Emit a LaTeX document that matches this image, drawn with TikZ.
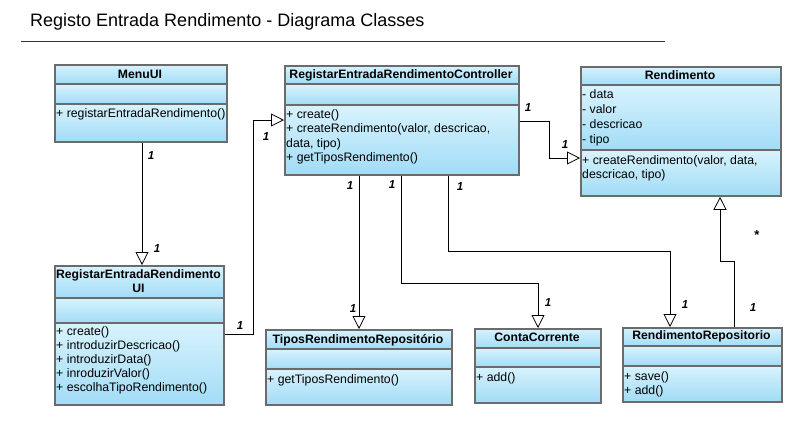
\documentclass[tikz,border=0pt]{standalone}
\usepackage{fontspec}
\setmainfont{Liberation Sans}
\usetikzlibrary{arrows.meta}
\definecolor{cTop}{HTML}{D8F3FD}
\definecolor{cBot}{HTML}{A2DCF6}
\definecolor{cBorder}{HTML}{6B6B6B}
\tikzset{
  clsframe/.style={draw=cBorder, line width=1.8pt, anchor=north west, inner sep=0pt},
  sepline/.style={draw=cBorder, line width=1.8pt},
  ttl/.style={anchor=base, inner sep=0pt, font=\fontsize{12.2}{14}\selectfont\bfseries},
  txt/.style={anchor=base west, inner sep=0pt, font=\fontsize{12.3}{14}\selectfont},
  mult/.style={inner sep=0pt, font=\fontsize{11.5}{13}\selectfont\bfseries\itshape},
  gen/.style={-{Triangle[length=13pt, width=13pt, fill=white]}, line width=0.8pt, black},
}
\newcommand{\umlcls}[7]{%
  \shade[top color=cTop,bottom color=cBot] (#2,#3) rectangle (#4,#6);
  \shade[top color=cTop,bottom color=cBot] (#2,#6) rectangle (#4,#7);
  \shade[top color=cTop,bottom color=cBot] (#2,#7) rectangle (#4,#5);
  \draw[sepline] (#2,#6) -- (#4,#6) (#2,#7) -- (#4,#7);
  \node[clsframe, minimum width={(#4-#2)*1pt}, minimum height={(#5-#3)*1pt}] (#1) at (#2,#3) {};
}
\begin{document}
\begin{tikzpicture}[x=1pt,y=-1pt]
\useasboundingbox (0,0) rectangle (802,424);
\fill[white] (0,0) rectangle (802,424);

% title
\node[anchor=base west, inner sep=0pt, font=\fontsize{18}{20}\selectfont] (title) at (30,26) {Registo Entrada Rendimento - Diagrama Classes};
\coordinate (tl) at (21,41);
\coordinate (tr) at (665,41);
\draw[line width=0.8pt, black!80] (tl) -- (tr);

% MenuUI
\umlcls{menu}{54}{64}{226}{141}{84}{104}
\node[ttl] (menut) at (140,78) {MenuUI};
\node[txt] (menum1) at (56,117) {+ registarEntradaRendimento()};

% Controller
\umlcls{ctrl}{284}{65}{518}{174}{84}{105}
\node[ttl] (ctrlt) at (401,78) {RegistarEntradaRendimentoController};
\foreach \t [count=\i from 0] in {{+ create()},{+ createRendimento(valor, descricao,},{data, tipo)},{+ getTiposRendimento()}}
  \node[txt] (ctrlm\i) at (286,118+\i*14.5) {\t};

% Rendimento
\umlcls{rend}{580}{66}{780}{195}{85}{150}
\node[ttl] (rendt) at (680,79) {Rendimento};
\foreach \t [count=\i from 0] in {{- data},{- valor},{- descricao},{- tipo}}
  \node[txt] (renda\i) at (582,98+\i*15) {\t};
\foreach \t [count=\i from 0] in {{+ createRendimento(valor, data,},{descricao, tipo)}}
  \node[txt] (rendm\i) at (582,164+\i*14) {\t};

% RegistarEntradaRendimentoUI
\umlcls{ui}{54}{265}{223}{404}{298}{323}
\node[ttl] (uit1) at (138.5,278) {RegistarEntradaRendimento};
\node[ttl] (uit2) at (138.5,292) {UI};
\foreach \t [count=\i from 0] in {{+ create()},{+ introduzirDescricao()},{+ introduzirData()},{+ inroduzirValor()},{+ escolhaTipoRendimento()}}
  \node[txt] (uim\i) at (56,335+\i*14) {\t};

% TiposRendimentoRepositorio
\umlcls{tipos}{265}{329}{451}{404}{349}{369}
\node[ttl] (tipost) at (358,343) {TiposRendimentoRepositório};
\node[txt] (tiposm) at (267,383) {+ getTiposRendimento()};

% ContaCorrente
\umlcls{conta}{474}{328}{600}{402}{348}{367}
\node[ttl] (contat) at (537,341) {ContaCorrente};
\node[txt] (contam) at (476,381) {+ add()};

% RendimentoRepositorio
\umlcls{rrepo}{622}{327}{781}{401}{346}{366}
\node[ttl] (rrepot) at (701.5,339) {RendimentoRepositorio};
\node[txt] (rrepom1) at (624,380) {+ save()};
\node[txt] (rrepom2) at (624,394) {+ add()};

% connectors
\draw[gen] (142,0 |- menu.south) -- (142,0 |- ui.north);
\node[mult] (l1a) at (151,156) {1};
\node[mult] (l1b) at (157,249) {1};

\draw[gen] (ui.east |- 0,334) -- (253,334) -- (253,120) -- (ctrl.west |- 0,120);
\node[mult] (l2a) at (240,326) {1};
\node[mult] (l2b) at (266,137) {1};

\draw[gen] (ctrl.east |- 0,121) -- (549,121) -- (549,158) -- (rend.west |- 0,158);
\node[mult] (l3a) at (528,108) {1};
\node[mult] (l3b) at (565,145) {1};

\draw[gen] (359,0 |- ctrl.south) -- (359,0 |- tipos.north);
\node[mult] (l4a) at (350,186) {1};
\node[mult] (l4b) at (353,309) {1};

\draw[gen] (401,0 |- ctrl.south) -- (401,283) -- (538,283) -- (538,0 |- conta.north);
\node[mult] (l5a) at (392,185) {1};
\node[mult] (l5b) at (548,303) {1};

\draw[gen] (448,0 |- ctrl.south) -- (448,251) -- (670,251) -- (670,0 |- rrepo.north);
\node[mult] (l6a) at (460,187) {1};
\node[mult] (l6b) at (685,305) {1};

\draw[gen] (734,0 |- rrepo.north) -- (734,261) -- (720,261) -- (720,0 |- rend.south);
\node[mult, font=\fontsize{13}{14}\selectfont\bfseries] (l7a) at (757,235) {*};
\node[mult] (l7b) at (753,308) {1};
\end{tikzpicture}
\end{document}
